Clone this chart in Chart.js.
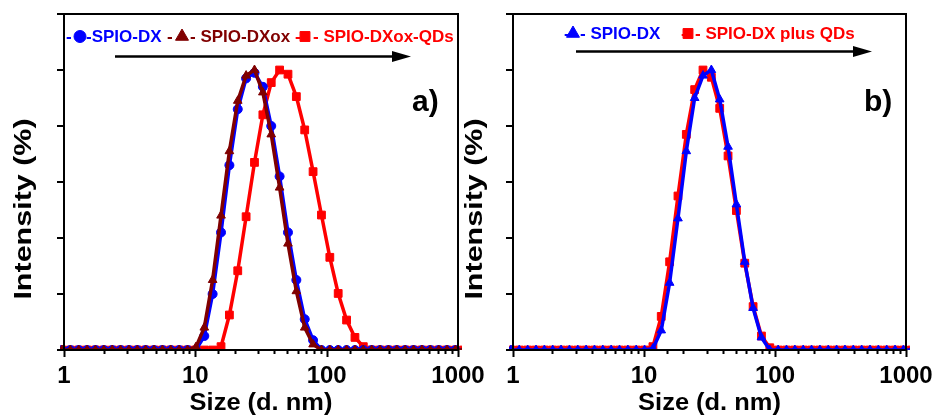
<!DOCTYPE html>
<html lang="en">
<head>
    <meta charset="UTF-8">
    <title>DLS size distribution</title>
    <script src="https://cdn.jsdelivr.net/npm/chart.js"></script>
    <style>
        body {
            margin: 0;
            background: #fff;
            width: 939px;
            height: 417px;
            position: relative;
            overflow: hidden;
        }
        .panel {
            position: absolute;
            top: 0;
            height: 417px;
        }
        #panelA { left: 0; width: 500px; }
        #panelB { left: 450px; width: 489px; }
    </style>
</head>
<body>
    <div class="panel" id="panelA"><canvas id="chartA"></canvas></div>
    <div class="panel" id="panelB"><canvas id="chartB"></canvas></div>

    <script>
        // Size bins (d. nm)
        const sizes = [0.9649, 1.117, 1.294, 1.499, 1.736, 2.010, 2.328, 2.696, 3.122, 3.615,
            4.187, 4.849, 5.615, 6.503, 7.531, 8.721, 10.10, 11.70, 13.54, 15.69,
            18.17, 21.04, 24.36, 28.21, 32.67, 37.84, 43.82, 50.75, 58.77, 68.06,
            78.82, 91.28, 105.7, 122.4, 141.8, 164.2, 190.1, 220.2, 255.0, 295.3,
            342.0, 396.1, 458.7, 531.2, 615.1, 712.4, 825.0, 955.4, 1106];

        // panel a) intensities
        const spioDxA = [0, 0, 0, 0, 0, 0, 0, 0, 0, 0,
            0, 0, 0, 0, 0, 0, 0, 5, 20, 42,
            66, 86, 97, 99, 94, 80, 62, 42, 25, 11,
            3.5, 0, 0, 0, 0, 0, 0, 0, 0, 0,
            0, 0, 0, 0, 0, 0, 0, 0, 0];
        const spioDxOx = [0, 0, 0, 0, 0, 0, 0, 0, 0, 0,
            0, 0, 0, 0, 0, 0, 1, 8, 25, 48,
            71, 89, 98, 100, 92, 77, 58, 38, 21, 8,
            2, 0, 0, 0, 0, 0, 0, 0, 0, 0,
            0, 0, 0, 0, 0, 0, 0, 0, 0];
        const spioDxOxQDs = [0, 0, 0, 0, 0, 0, 0, 0, 0, 0,
            0, 0, 0, 0, 0, 0, 0, 0, 0, 1.2,
            12.5, 28.3, 47.6, 67, 84, 95.5, 100, 98.5, 90.5, 78.6,
            63.7, 48.2, 33.1, 20.2, 10.7, 4.5, 1.2, 0, 0, 0,
            0, 0, 0, 0, 0, 0, 0, 0, 0];

        // panel b) intensities
        const spioDxB = [0, 0, 0, 0, 0, 0, 0, 0, 0, 0,
            0, 0, 0, 0, 0, 0, 0, 0.5, 7, 24,
            47, 71, 90, 98, 100, 89.5, 72.6, 52, 31.5, 15,
            4.5, 0, 0, 0, 0, 0, 0, 0, 0, 0,
            0, 0, 0, 0, 0, 0, 0, 0, 0];
        const spioDxPlusQDs = [0, 0, 0, 0, 0, 0, 0, 0, 0, 0,
            0, 0, 0, 0, 0, 0, 0, 1.2, 12, 31.5,
            55, 77, 93, 100, 97.4, 86.3, 69.3, 49.8, 31, 15.5,
            5, 0.8, 0, 0, 0, 0, 0, 0, 0, 0,
            0, 0, 0, 0, 0, 0, 0, 0, 0];

        const xTickLabels = [1, 10, 100, 1000];

        const FONT = '"Liberation Sans", Arial, sans-serif';
        const BLUE = '#0000ff', BROWN = '#800000', RED = '#ff0000';

        const pts = (ys) => sizes.map((s, i) => ({ x: s, y: ys[i] }));

        function series(label, ys, color, style, radius) {
            return {
                label: label,
                data: pts(ys),
                borderColor: color,
                backgroundColor: color,
                borderWidth: 3.5,
                pointStyle: style,
                pointRadius: radius,
                pointBorderWidth: 1,
                tension: 0,
                clip: { left: 4, right: 4, top: 10, bottom: 0 }
            };
        }

        // box frame + outward tick marks
        const frameTicks = {
            id: 'frameTicks',
            afterDatasetsDraw(chart) {
                const { ctx, chartArea: a, scales: { x, y } } = chart;
                ctx.save();
                ctx.strokeStyle = '#000';
                ctx.lineWidth = 2;
                ctx.strokeRect(a.left, a.top, a.right - a.left, a.bottom - a.top);
                ctx.beginPath();
                x.ticks.forEach(t => {
                    const px = Math.round(x.getPixelForValue(t.value)) + 0.5;
                    const major = Math.abs(Math.log10(t.value) % 1) < 1e-9;
                    ctx.moveTo(px, a.bottom);
                    ctx.lineTo(px, a.bottom + (major ? 7 : 4));
                });
                y.ticks.forEach(t => {
                    const py = Math.round(y.getPixelForValue(t.value));
                    ctx.moveTo(a.left - 7, py);
                    ctx.lineTo(a.left, py);
                });
                ctx.stroke();
                ctx.restore();
            }
        };

        const markerSize = { circle: 6, triangle: 7.5, rect: 7 };

        // legend text, arrow, panel letter and axis titles
        const annotations = {
            id: 'annotations',
            afterDraw(chart, args, opts) {
                const { ctx, chartArea: a } = chart;
                ctx.save();
                ctx.textBaseline = 'alphabetic';

                opts.legend.forEach(p => {
                    ctx.fillStyle = p.color;
                    ctx.strokeStyle = p.color;
                    if (p.marker) {
                        Chart.helpers.drawPoint(ctx, {
                            pointStyle: p.marker,
                            radius: markerSize[p.marker],
                            borderWidth: 1,
                            rotation: 0
                        }, p.x, opts.legendY - 5.5);
                    } else {
                        ctx.textAlign = 'left';
                        ctx.font = 'bold 17px ' + FONT;
                        ctx.fillText(p.text, p.x, opts.legendY);
                    }
                });

                // arrow
                const ar = opts.arrow;
                ctx.strokeStyle = '#000';
                ctx.fillStyle = '#000';
                ctx.lineWidth = 2.5;
                ctx.beginPath();
                ctx.moveTo(ar.x0, ar.y);
                ctx.lineTo(ar.x1 - 14, ar.y);
                ctx.stroke();
                ctx.beginPath();
                ctx.moveTo(ar.x1, ar.y);
                ctx.lineTo(ar.x1 - 19, ar.y - 5.5);
                ctx.lineTo(ar.x1 - 19, ar.y + 5.5);
                ctx.closePath();
                ctx.fill();

                // panel letter
                ctx.fillStyle = '#000';
                ctx.textAlign = 'left';
                ctx.font = 'bold 30px ' + FONT;
                ctx.fillText(opts.letter, opts.letterX, 111);

                // axis titles
                ctx.font = 'bold 24px ' + FONT;
                ctx.textAlign = 'center';
                ctx.save();
                ctx.translate((a.left + a.right) / 2, 410);
                ctx.scale(1.06, 1);
                ctx.fillText('Size (d. nm)', 0, 0);
                ctx.restore();
                ctx.translate(opts.yTitleX, 209);
                ctx.rotate(-Math.PI / 2);
                ctx.scale(1.27, 1);
                ctx.fillText('Intensity (%)', 0, 0);
                ctx.restore();
            }
        };

        function makeChart(id, datasets, yWidth, padRight, ann) {
            return new Chart(document.getElementById(id), {
                type: 'line',
                data: { datasets: datasets },
                options: {
                    responsive: true,
                    maintainAspectRatio: false,
                    animation: false,
                    layout: { padding: { top: 14, right: padRight, left: 0, bottom: 0 } },
                    plugins: {
                        legend: { display: false },
                        tooltip: { enabled: false },
                        annotations: ann
                    },
                    scales: {
                        x: {
                            type: 'logarithmic',
                            min: 1,
                            max: 1000,
                            grid: { display: false },
                            border: { display: false },
                            ticks: {
                                autoSkip: false,
                                maxRotation: 0,
                                padding: 4,
                                color: '#000',
                                font: { family: FONT, size: 24, weight: 'bold' },
                                callback: v => xTickLabels.includes(v) ? String(v) : ''
                            },
                            afterFit: s => { s.height = 67; }
                        },
                        y: {
                            min: 0,
                            max: 120,
                            grid: { display: false },
                            border: { display: false },
                            ticks: { display: false, stepSize: 20 },
                            afterFit: s => { s.width = yWidth; }
                        }
                    }
                },
                plugins: [frameTicks, annotations]
            });
        }

        makeChart('chartA', [
            series('SPIO-DXox', spioDxOx, BROWN, 'triangle', 5),
            series('SPIO-DX', spioDxA, BLUE, 'circle', 4.5),
            series('SPIO-DXox-QDs', spioDxOxQDs, RED, 'rect', 5.5)
        ], 64, 42, {
            legendY: 42,
            legend: [
                { text: '-', x: 66, color: BLUE },
                { marker: 'circle', x: 80, color: BLUE },
                { text: '-SPIO-DX', x: 86, color: BLUE },
                { text: '-', x: 167, color: BROWN },
                { marker: 'triangle', x: 182, color: BROWN },
                { text: '- SPIO-DXox', x: 190, color: BROWN },
                { text: '-', x: 295, color: RED },
                { marker: 'rect', x: 305, color: RED },
                { text: '- SPIO-DXox-QDs', x: 313, color: RED }
            ],
            arrow: { x0: 115, x1: 411, y: 56.5 },
            letter: 'a)',
            letterX: 412,
            yTitleX: 31
        });

        makeChart('chartB', [
            series('SPIO-DX', spioDxB, BLUE, 'triangle', 5),
            series('SPIO-DX plus QDs', spioDxPlusQDs, RED, 'rect', 5.5)
        ], 63, 33, {
            legendY: 39,
            legend: [
                { text: '-', x: 114, color: BLUE },
                { marker: 'triangle', x: 123, color: BLUE },
                { text: '- SPIO-DX', x: 130, color: BLUE },
                { text: '-', x: 231, color: RED },
                { marker: 'rect', x: 238, color: RED },
                { text: '- SPIO-DX plus QDs', x: 245, color: RED }
            ],
            arrow: { x0: 126, x1: 422, y: 51.5 },
            letter: 'b)',
            letterX: 414,
            yTitleX: 32
        });
    </script>
</body>
</html>
